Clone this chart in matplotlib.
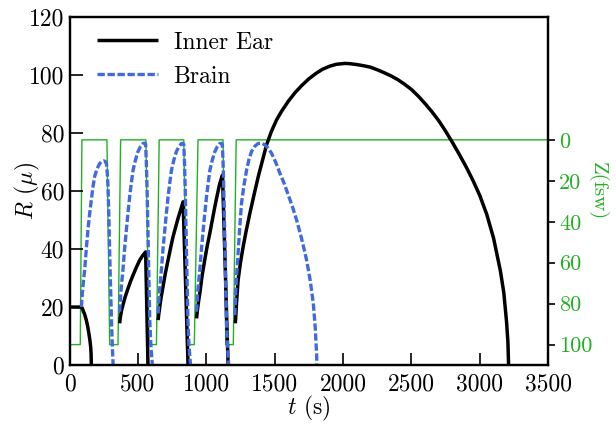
import matplotlib
matplotlib.use("Agg")
import matplotlib.pyplot as plt
import numpy as np

plt.rcParams['font.family'] = 'serif'
plt.rcParams['font.serif'] = ['cmr10']
plt.rcParams['mathtext.fontset'] = 'cm'
plt.rcParams['axes.unicode_minus'] = False

# Dive profile (depth in fsw vs time in s)
prof_t = [0, 5, 78, 90, 273, 293, 354, 373, 558, 581, 635, 655,
          835, 859, 912, 939, 1122, 1142, 1197, 1218, 3500]
prof_z = [0, 100, 100, 0, 0, 100, 100, 0, 0, 100, 100, 0,
          0, 100, 100, 0, 0, 100, 100, 0, 0]

# Inner ear bubble radius, one segment per dive
ear_t1 = [0, 85, 92, 97, 110, 122, 132, 141, 148, 154, 157, 159]
ear_r1 = [20, 20, 19.7, 19, 17.5, 15.5, 13.4, 10.9, 8.7, 6.3, 4, 0]
ear_t2 = [366, 370, 375, 382, 390, 405, 427, 445, 464, 488, 513, 535, 556, 573]
ear_r2 = [14.4, 16.2, 17.6, 19.3, 20.7, 23.3, 26.4, 28.8, 31, 33.7, 36.2, 37.8, 39, 0]
ear_t3 = [647, 652, 659, 670, 683, 700, 720, 738, 756, 775, 793, 812, 830, 866]
ear_r3 = [15.5, 17.5, 20, 23.6, 27, 31.6, 36.2, 40.3, 44.2, 47.5, 50.6, 53.5, 56.3, 0]
ear_t4 = [928, 933, 940, 952, 968, 988, 1006, 1025, 1044, 1062, 1080, 1098, 1118, 1159]
ear_r4 = [16.1, 18.3, 21, 24.7, 30.5, 36.2, 41, 45.4, 50.1, 54.6, 58.7, 62.6, 65.5, 0]
ear_t5 = [1212, 1220, 1232, 1250, 1269, 1290, 1318, 1350, 1379, 1410, 1440,
          1475, 1513, 1550, 1600, 1650, 1700, 1750, 1800, 1850, 1900, 1950,
          2013, 2050, 2100, 2150, 2200, 2250, 2300, 2350, 2400, 2450, 2500,
          2550, 2600, 2650, 2700, 2750, 2800, 2850, 2900, 2950, 3000, 3050,
          3100, 3150, 3175, 3195, 3205, 3210]
ear_r5 = [14.4, 21, 29.3, 35.5, 40.8, 46, 52.3, 59, 64.9, 70.5, 75.9,
          80.5, 84.5, 87.5, 91, 94, 96.5, 98.7, 100.5, 102, 103, 103.7,
          104, 103.9, 103.6, 103.2, 102.7, 101.8, 100.8, 99.7, 98.4, 96.8, 95,
          92.7, 90.1, 87.3, 84.2, 80.6, 76.7, 72.6, 68.3, 63.6, 58.4, 52,
          43.8, 32.5, 25, 15, 8, 0]

# Brain bubble radius, one segment per dive
brain_t1 = [86, 92, 98, 110, 122, 134, 146, 159, 171, 183, 200, 220, 235,
            249, 260, 269, 275, 281, 287, 293, 300, 306, 312, 318]
brain_r1 = [20, 24, 27.5, 32.8, 40, 46.6, 52, 57, 61.5, 65, 67.6, 69.5, 70.2,
            70.4, 70.2, 69.5, 66.5, 61.5, 51, 38.6, 26, 15.5, 7, 0]
brain_t2 = [366, 372, 378, 390, 402, 415, 427, 439, 452, 464, 482, 500, 518,
            537, 550, 556, 561, 566, 571, 576, 581, 586, 595, 605]
brain_r2 = [18.4, 23, 27, 32.8, 40, 46.6, 52.5, 58, 63, 67.2, 70.8, 73.6, 75.3,
            76.4, 76.5, 76.2, 70, 61.5, 50, 38.5, 27, 15.5, 6, 0]
brain_t3 = [647, 653, 659, 671, 683, 696, 708, 720, 733, 745, 763, 781, 799,
            818, 830, 835, 840, 845, 850, 855, 860, 865, 874, 884]
brain_r3 = [17.8, 22.5, 26.5, 32.8, 40, 46.6, 52.5, 58, 63, 67.2, 70.8, 73.6, 75.3,
            76.4, 76.4, 76, 70, 61.5, 50, 38.5, 27, 15.5, 6, 0]
brain_t4 = [928, 934, 940, 952, 964, 977, 989, 1001, 1014, 1026, 1044, 1062, 1080,
            1098, 1111, 1117, 1122, 1127, 1132, 1137, 1142, 1147, 1155, 1163]
brain_r4 = [18.4, 23, 27, 32.8, 40, 46.6, 52.5, 58, 63, 67.2, 70.8, 73.6, 75.3,
            76.4, 76.4, 76, 70, 61.5, 50, 38.5, 27, 15.5, 6, 0]
brain_t5 = [1208, 1214, 1220, 1232, 1244, 1257, 1275, 1294, 1312, 1330, 1355,
            1379, 1404, 1428, 1452, 1477, 1508, 1538, 1570, 1600, 1630, 1660,
            1697, 1733, 1760, 1782, 1796, 1806, 1808]
brain_r5 = [17.2, 24, 30, 38.5, 47.5, 55.8, 62, 67.2, 71, 73.6, 75.5,
            76.4, 76.5, 75.9, 74.8, 73, 69.8, 66.1, 62.5, 58.5, 54.5, 50,
            43.5, 36.2, 29, 21.3, 13, 4, 0]

ear_segments = [(ear_t1, ear_r1), (ear_t2, ear_r2), (ear_t3, ear_r3),
                (ear_t4, ear_r4), (ear_t5, ear_r5)]
brain_segments = [(brain_t1, brain_r1), (brain_t2, brain_r2), (brain_t3, brain_r3),
                  (brain_t4, brain_r4), (brain_t5, brain_r5)]

GREEN = '#22b022'
BLUE = '#4169e1'

fig = plt.figure(figsize=(6.16, 4.25), dpi=100)
ax = fig.add_axes([0.113, 0.141, 0.777, 0.819])
ax2 = ax.twinx()

ax2.plot(prof_t, prof_z, color=GREEN, lw=1.0)
ax2.set_ylim(110, -60)
ax2.set_yticks([0, 20, 40, 60, 80, 100])
ax2.tick_params(axis='y', direction='out', length=5, width=1.2,
                labelcolor=GREEN, labelsize=16, pad=3)
ax2.set_ylabel('Z(fsw)', color=GREEN, rotation=270, fontsize=15)
ax2.yaxis.set_label_coords(1.125, 0.5)

for i, (t, r) in enumerate(ear_segments):
    ax.plot(t, r, color='black', lw=2.5, solid_capstyle='butt',
            label='Inner Ear' if i == 0 else None)
for i, (t, r) in enumerate(brain_segments):
    ax.plot(t, r, color=BLUE, lw=2.4, linestyle=(0, (2.2, 0.8)),
            label='Brain' if i == 0 else None)

ax.set_zorder(ax2.get_zorder() + 1)
ax.patch.set_visible(False)

ax.set_xlim(0, 3500)
ax.set_ylim(0, 120)
ax.set_xticks(np.arange(0, 3501, 500))
ax.set_yticks(np.arange(0, 121, 20))
ax.tick_params(axis='both', direction='in', length=9, width=1.2, labelsize=17)
ax.tick_params(axis='x', pad=6)
ax.tick_params(axis='y', pad=4)
ax.set_xlabel('$t$ (s)', fontsize=17, labelpad=-1)
ax.set_ylabel('$R$ ($\\mu$)', fontsize=17)
ax.yaxis.set_label_coords(-0.058, 0.5)

for a in (ax, ax2):
    for s in a.spines.values():
        s.set_linewidth(1.6)

leg = ax.legend(loc='upper left', bbox_to_anchor=(0.02, 1.009), frameon=False,
                fontsize=17, handlelength=2.6, handletextpad=0.65,
                labelspacing=0.5, borderaxespad=0.35)

fig.savefig('out.png', dpi=100)
